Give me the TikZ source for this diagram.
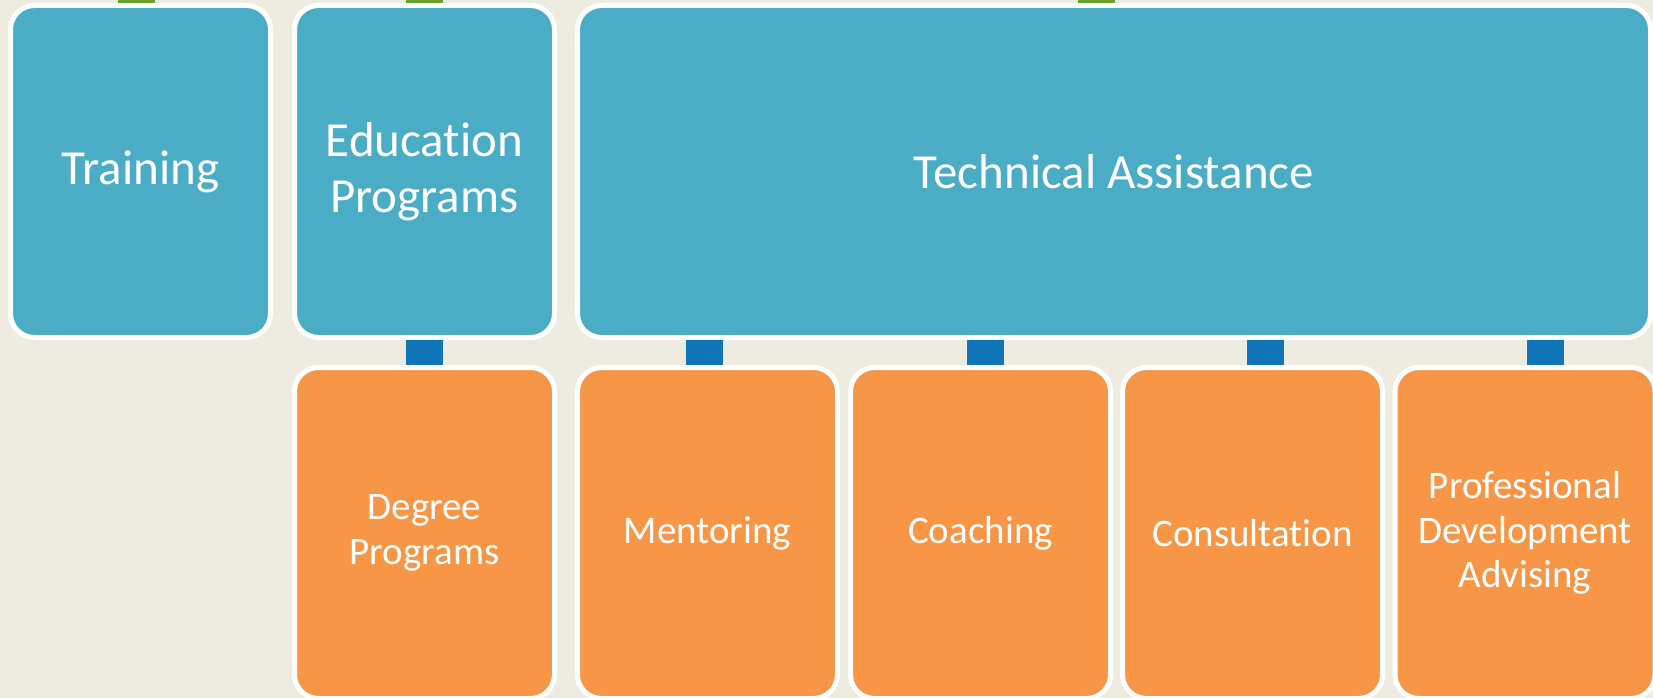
\documentclass[tikz,border=0pt]{standalone}
\usepackage{fontspec}
\setmainfont{Carlito}[Ligatures={NoCommon,NoContextual,NoRare},RawFeature={-liga;-clig;-calt;-dlig}]
\usepackage{xcolor}
\definecolor{paper}{HTML}{EEECE1}
\definecolor{aqua}{HTML}{4BACC6}
\definecolor{tangerine}{HTML}{F79646}
\definecolor{linkblue}{HTML}{1076B9}
\definecolor{linkgreen}{HTML}{6B9F2E}

\begin{document}
\begin{tikzpicture}[x=1pt,y=-1pt,
    every node/.style={draw=white, line width=5pt, rounded corners=24pt,
        text=white, align=center, inner sep=0pt},
    headbox/.style={fill=aqua, minimum width=260pt, minimum height=332pt,
        font=\fontsize{49}{56}\selectfont},
    subbox/.style={fill=tangerine, minimum width=260pt, minimum height=331pt,
        font=\fontsize{39}{44.5}\selectfont},
    greenlink/.style={linkgreen, line width=37pt},
    bluelink/.style={linkblue, line width=37pt}]

    \path[use as bounding box, fill=paper] (0,0) rectangle (1653,698);
    \clip (0,0) rectangle (1653,698);
    \coordinate (top) at (0,0);

    % first row
    \node[headbox] (train) at (140.5,171.5) {Training};
    \node[headbox] (edu)   at (424.5,171.5) {Education\\Programs};
    \node[headbox, minimum width=1073pt] (ta) at (1114,171.5) {Technical Assistance};

    % second row
    \node[subbox] (degree)  at (424.5,533)  {Degree\\Programs};
    \node[subbox] (mentor)  at (707.5,533)  {Mentoring};
    \node[subbox] (coach)   at (980.5,533)  {Coaching};
    \node[subbox] (consult) at (1252.5,533) {Consultation};
    \node[subbox] (profdev) at (1525,533)   {Professional\\Development\\Advising};

    % links up
    \draw[greenlink] ([xshift=-4pt]train.north) -- ([xshift=-4pt]train.north |- top);
    \draw[greenlink] (edu.north) -- (edu.north |- top);
    \draw[greenlink] ([xshift=-17.5pt]ta.north) -- ([xshift=-17.5pt]ta.north |- top);

    % links down
    \draw[bluelink] (edu.south) -- (degree.north);
    \draw[bluelink] ([xshift=-3pt]mentor.north) -- ([xshift=-3pt]mentor.north |- ta.south);
    \draw[bluelink] ([xshift=4.5pt]coach.north) -- ([xshift=4.5pt]coach.north |- ta.south);
    \draw[bluelink] ([xshift=12.5pt]consult.north) -- ([xshift=12.5pt]consult.north |- ta.south);
    \draw[bluelink] ([xshift=20pt]profdev.north) -- ([xshift=20pt]profdev.north |- ta.south);

\end{tikzpicture}
\end{document}
